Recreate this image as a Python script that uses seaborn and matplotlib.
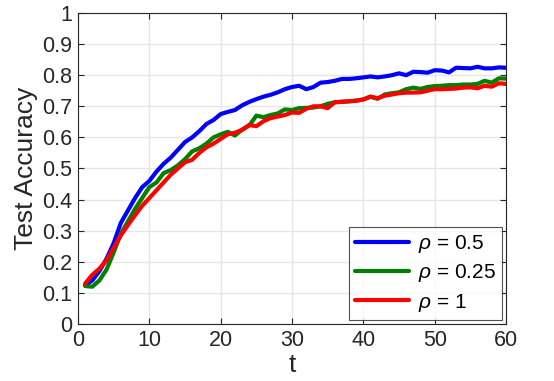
import numpy as np
import pandas as pd
import matplotlib
matplotlib.use("Agg")
import matplotlib.pyplot as plt
import seaborn as sns

t_vals = list(range(1, 61))
acc_rho_05 = [0.125, 0.14, 0.17, 0.21, 0.26, 0.325, 0.365, 0.405, 0.44, 0.46,
              0.49, 0.515, 0.535, 0.56, 0.585, 0.60, 0.62, 0.643, 0.656, 0.675,
              0.682, 0.688, 0.703, 0.714, 0.723, 0.731, 0.737, 0.745, 0.755, 0.762,
              0.766, 0.755, 0.762, 0.776, 0.778, 0.782, 0.788, 0.788, 0.79, 0.793,
              0.796, 0.793, 0.796, 0.80, 0.806, 0.80, 0.811, 0.81, 0.808, 0.816,
              0.815, 0.809, 0.824, 0.823, 0.822, 0.827, 0.822, 0.822, 0.825, 0.824]
acc_rho_025 = [0.122, 0.12, 0.14, 0.175, 0.23, 0.29, 0.33, 0.37, 0.405, 0.44,
               0.455, 0.485, 0.495, 0.51, 0.53, 0.555, 0.565, 0.58, 0.60, 0.61,
               0.618, 0.606, 0.625, 0.638, 0.67, 0.665, 0.672, 0.677, 0.69, 0.688,
               0.694, 0.695, 0.696, 0.70, 0.708, 0.713, 0.714, 0.716, 0.718, 0.722,
               0.731, 0.724, 0.738, 0.742, 0.745, 0.755, 0.76, 0.756, 0.762, 0.765,
               0.766, 0.768, 0.768, 0.77, 0.77, 0.772, 0.782, 0.776, 0.79, 0.789]
acc_rho_1 = [0.13, 0.158, 0.178, 0.205, 0.245, 0.285, 0.318, 0.35, 0.38, 0.405,
             0.43, 0.455, 0.48, 0.50, 0.52, 0.528, 0.55, 0.568, 0.58, 0.595,
             0.61, 0.615, 0.624, 0.64, 0.636, 0.652, 0.662, 0.667, 0.672, 0.68,
             0.679, 0.692, 0.70, 0.70, 0.694, 0.713, 0.715, 0.716, 0.718, 0.722,
             0.731, 0.726, 0.734, 0.738, 0.742, 0.744, 0.744, 0.745, 0.75, 0.755,
             0.755, 0.756, 0.757, 0.76, 0.761, 0.758, 0.766, 0.763, 0.774, 0.772]
series_labels = [r"$\rho$ = 0.5", r"$\rho$ = 0.25", r"$\rho$ = 1"]
x_ticks = [0, 10, 20, 30, 40, 50, 60]
y_ticks = [0, 0.1, 0.2, 0.3, 0.4, 0.5, 0.6, 0.7, 0.8, 0.9, 1]
y_tick_labels = ["0", "0.1", "0.2", "0.3", "0.4", "0.5", "0.6", "0.7", "0.8", "0.9", "1"]

df = pd.DataFrame({
    "t": t_vals * 3,
    "acc": acc_rho_05 + acc_rho_025 + acc_rho_1,
    "series": [series_labels[0]] * 60 + [series_labels[1]] * 60 + [series_labels[2]] * 60,
})

sns.set_style("ticks")
plt.rcParams["font.family"] = ["Liberation Sans", "DejaVu Sans"]
plt.rcParams["mathtext.fontset"] = "custom"
plt.rcParams["mathtext.it"] = "Liberation Sans:italic"
plt.rcParams["mathtext.rm"] = "Liberation Sans"

axcol = "#262626"
fig = plt.figure(figsize=(5.54, 3.81), dpi=100)
ax = fig.add_axes([0.1408, 0.1496, 0.7726, 0.8163])

palette = {series_labels[0]: "#0000ff", series_labels[1]: "#008000", series_labels[2]: "#ff0000"}
sns.lineplot(data=df, x="t", y="acc", hue="series", hue_order=series_labels,
             palette=palette, linewidth=3, ax=ax)

ax.set_xlim(0, 60)
ax.set_ylim(0, 1)
ax.set_xticks(x_ticks)
ax.set_yticks(y_ticks)
ax.set_yticklabels(y_tick_labels)
ax.grid(True, color="#e6e6e6", linewidth=1)
ax.set_axisbelow(True)
for s in ax.spines.values():
    s.set_visible(True)
    s.set_color(axcol)
    s.set_linewidth(0.8)
ax.tick_params(direction="in", top=True, right=True, length=4, width=0.8,
               colors=axcol, labelsize=15.5, pad=4)
ax.set_xlabel("t", fontsize=19, color=axcol, labelpad=2)
ax.set_ylabel("Test Accuracy", fontsize=19, color=axcol, labelpad=3)

leg = ax.legend(loc="lower right", fontsize=15, frameon=True, fancybox=False,
                edgecolor=axcol, handlelength=2.6, borderaxespad=0.2,
                labelspacing=0.35, borderpad=0.3, handletextpad=0.4)
leg.get_frame().set_linewidth(0.8)
for txt in leg.get_texts():
    txt.set_color("black")

fig.savefig("out.png", dpi=100)
